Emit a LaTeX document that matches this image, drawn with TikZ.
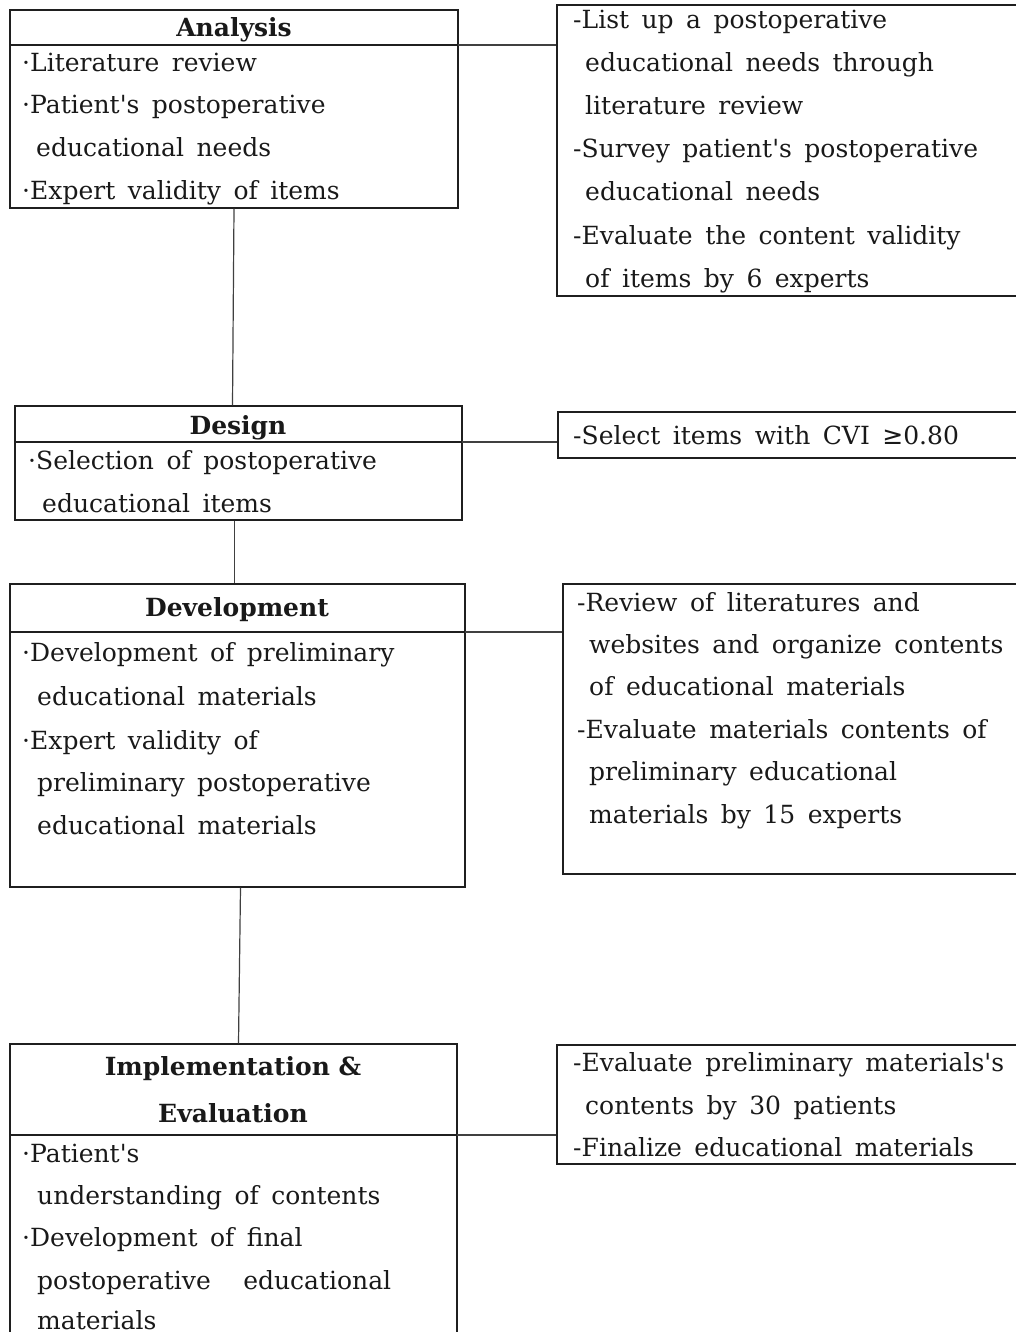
\documentclass[tikz,border=0pt]{standalone}
\usepackage{fontspec}
\newfontfamily\serifplain{DejaVu Serif}
\newfontfamily\symfont{DejaVu Sans}
\usetikzlibrary{fit,calc}
\newcommand{\bodyfont}{\serifplain\fontsize{25}{29}\selectfont\spaceskip=0.5em plus 0.1em\relax}
\newcommand{\titlefont}{\serifplain\fontsize{25}{29}\selectfont\bfseries}
\begin{document}
\begin{tikzpicture}[x=1pt,y=-1pt,
  box/.style={draw=black!88, line width=1.4pt, inner sep=0pt},
  conn/.style={draw=black!75, line width=1.2pt},
  txt/.style={anchor=base west, inner sep=0pt, font=\bodyfont, text=black!90},
  ttl/.style={anchor=base, inner sep=0pt, font=\titlefont, text=black!90}]
\useasboundingbox (0,0) rectangle (1016,1332);
% boxes
\node[box, fit={(10,10) (458,208)}] (A) {};
\node[box, fit={(557,5) (1030,296)}] (R1) {};
\node[box, fit={(15,406) (462,520)}] (D) {};
\node[box, fit={(558,412) (1030,458)}] (R2) {};
\node[box, fit={(10,584) (465,887)}] (V) {};
\node[box, fit={(563,584) (1030,874)}] (R3) {};
\node[box, fit={(10,1044) (457,1345)}] (I) {};
\node[box, fit={(557,1045) (1030,1164)}] (R4) {};
% divider points
\coordinate (Ad) at (458,45);
\coordinate (Dd) at (462,442);
\coordinate (Vd) at (465,632);
\coordinate (Id) at (457,1135);
% dividers + connectors
\draw[box] (A.west |- Ad) -- (Ad);
\draw[conn] (Ad) -- (R1.west |- Ad);
\draw[box] (D.west |- Dd) -- (Dd);
\draw[conn] (Dd) -- (R2.west |- Dd);
\draw[box] (V.west |- Vd) -- (Vd);
\draw[conn] (Vd) -- (R3.west |- Vd);
\draw[box] (I.west |- Id) -- (Id);
\draw[conn] (Id) -- (R4.west |- Id);
% vertical connectors
\draw[conn] (A.south) -- ($(D.north)+(-6,0)$);
\draw[conn] ($(D.south)+(-4,0)$) -- ($(V.north)+(-3,0)$);
\draw[conn] ($(V.south)+(3,0)$) -- ($(I.north)+(5,0)$);
% Analysis
\node[ttl] (At) at (234,37) {Analysis};
\node[txt] (A1) at (22,72) {·Literature review};
\node[txt] (A2) at (22,114) {·Patient's postoperative};
\node[txt] (A3) at (36,157) {educational needs};
\node[txt] (A4) at (22,200) {·Expert validity of items};
% R1
\node[txt] (R11) at (573,29) {-List up a postoperative};
\node[txt] (R12) at (585,72) {educational needs through};
\node[txt] (R13) at (585,115) {literature review};
\node[txt] (R14) at (573,158) {-Survey patient's postoperative};
\node[txt] (R15) at (585,201) {educational needs};
\node[txt] (R16) at (573,244) {-Evaluate the content validity};
\node[txt] (R17) at (585,287) {of items by 6 experts};
% Design
\node[ttl] (Dt) at (238,434) {Design};
\node[txt] (D1) at (28,469) {·Selection of postoperative};
\node[txt] (D2) at (42,512) {educational items};
\node[txt] (R21) at (573,444) {-Select items with CVI {\symfont≥}0.80};
% Development
\node[ttl] (Vt) at (237,616) {Development};
\node[txt] (V1) at (22,661) {·Development of preliminary};
\node[txt] (V2) at (37,705) {educational materials};
\node[txt] (V3) at (22,749) {·Expert validity of};
\node[txt] (V4) at (37,791) {preliminary postoperative};
\node[txt] (V5) at (37,834) {educational materials};
% R3
\node[txt] (R31) at (577,611) {-Review of literatures and};
\node[txt] (R32) at (589,653) {websites and organize contents};
\node[txt] (R33) at (589,695) {of educational materials};
\node[txt] (R34) at (577,738) {-Evaluate materials contents of};
\node[txt] (R35) at (589,780) {preliminary educational};
\node[txt] (R36) at (589,823) {materials by 15 experts};
% Implementation
\node[ttl] (It1) at (233,1075) {Implementation \&};
\node[ttl] (It2) at (233,1122) {Evaluation};
\node[txt] (I1) at (22,1162) {·Patient's};
\node[txt] (I2) at (37,1204) {understanding of contents};
\node[txt] (I3) at (22,1246) {·Development of final};
\node[txt] (I4) at (37,1289) {postoperative\hspace{1.3em}educational};
\node[txt] (I5) at (37,1329) {materials};
% R4
\node[txt] (R41) at (573,1071) {-Evaluate preliminary materials's};
\node[txt] (R42) at (585,1114) {contents by 30 patients};
\node[txt] (R43) at (573,1156) {-Finalize educational materials};
\end{tikzpicture}
\end{document}
